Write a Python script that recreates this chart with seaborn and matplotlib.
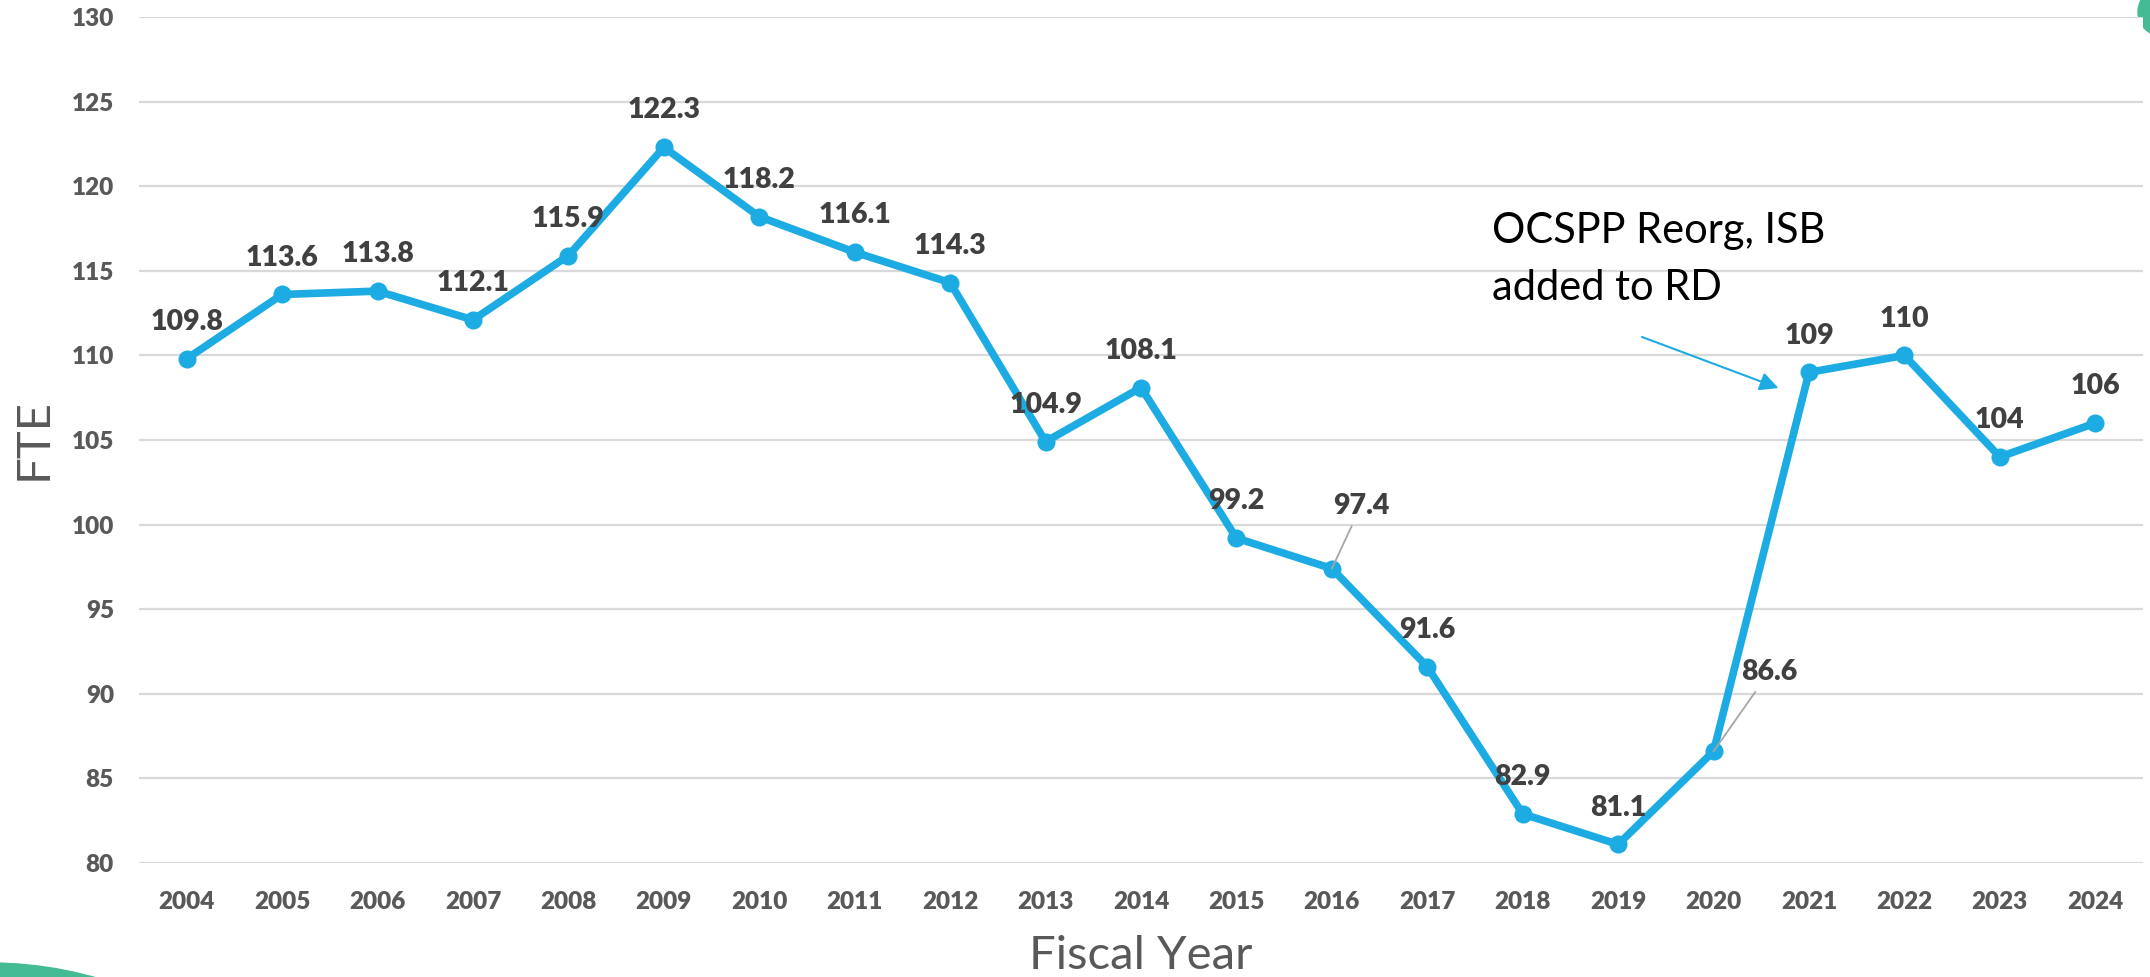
import matplotlib
matplotlib.use("Agg")
import matplotlib.pyplot as plt
import matplotlib.patches as mpatches
from matplotlib.transforms import IdentityTransform
import seaborn as sns
import pandas as pd

# ---- data ----
years = [2004, 2005, 2006, 2007, 2008, 2009, 2010, 2011, 2012, 2013, 2014,
         2015, 2016, 2017, 2018, 2019, 2020, 2021, 2022, 2023, 2024]
fte = [109.8, 113.6, 113.8, 112.1, 115.9, 122.3, 118.2, 116.1, 114.3, 104.9, 108.1,
       99.2, 97.4, 91.6, 82.9, 81.1, 86.6, 109, 110, 104, 106]
value_labels = ["109.8", "113.6", "113.8", "112.1", "115.9", "122.3", "118.2", "116.1",
                "114.3", "104.9", "108.1", "99.2", "97.4", "91.6", "82.9", "81.1",
                "86.6", "109", "110", "104", "106"]
y_ticks = [80, 85, 90, 95, 100, 105, 110, 115, 120, 125, 130]
annotation_lines = ["OCSPP Reorg, ISB", "added to RD"]

df = pd.DataFrame({"Fiscal Year": years, "FTE": fte})

sns.set_theme(style="white")
plt.rcParams["font.family"] = ["Lato", "DejaVu Sans"]

W, H, DPI = 2150, 977, 100
fig = plt.figure(figsize=(W / DPI, H / DPI), dpi=DPI)
fig.patch.set_facecolor("white")
ax = fig.add_axes([139 / W, 1 - 863 / H, (2143 - 139) / W, (863 - 17) / H])

line_color = "#1CACE3"
sns.lineplot(data=df, x="Fiscal Year", y="FTE", ax=ax, color=line_color,
             linewidth=5.5, marker="o", markersize=13, markeredgewidth=0, zorder=3)

ax.set_xlim(years[0] - 0.5, years[-1] + 0.5)
ax.set_ylim(y_ticks[0], y_ticks[-1])
ax.set_yticks(y_ticks)
ax.set_xticks(years)
ax.set_xticklabels([str(y) for y in years])
ax.grid(axis="y", color="#D9D9D9", linewidth=1.6, zorder=0)
ax.grid(axis="x", visible=False)
for s in ax.spines.values():
    s.set_visible(False)
ax.tick_params(axis="both", length=0, labelcolor="#595959", labelsize=17.5)
ax.tick_params(axis="y", pad=18)
ax.tick_params(axis="x", pad=20)
for lab in ax.get_xticklabels() + ax.get_yticklabels():
    lab.set_fontweight("heavy")

ax.set_xlabel("Fiscal Year", fontsize=34, color="#595959", va="center", ha="center")
ax.set_ylabel("FTE", fontsize=34, color="#595959", va="center", ha="center")
ax.xaxis.set_label_coords(0.5, -(956 - 863) / (863 - 17))
ax.yaxis.set_label_coords(-(139 - 34) / (2143 - 139), 1 - (439 - 17) / (863 - 17))

# data labels
special = {2016: (21, -45), 2020: (40, -57)}
for x, y, t in zip(years, fte, value_labels):
    if x in special:
        dx, dy = special[x]
        ax.annotate(t, xy=(x, y), xytext=(dx, -dy), textcoords="offset points",
                    ha="center", va="center", fontsize=20.5, fontweight="heavy",
                    color="#404040", zorder=5,
                    arrowprops=dict(arrowstyle="-", color="#A6A6A6", lw=1.3,
                                    shrinkA=3, shrinkB=0))
    else:
        ax.annotate(t, xy=(x, y), xytext=(0, 26.5), textcoords="offset points",
                    ha="center", va="center", fontsize=20.5, fontweight="heavy",
                    color="#404040", zorder=5)

# annotation text and arrow
ax.text(2017.68, 116.64, annotation_lines[0], fontsize=30, color="black",
        ha="left", va="baseline")
ax.text(2017.68, 113.27, annotation_lines[1], fontsize=30, color="black",
        ha="left", va="baseline")
ax.annotate("", xy=(2020.68, 108.07), xytext=(2019.25, 111.09),
            arrowprops=dict(arrowstyle="-|>", color=line_color, lw=1.5,
                            mutation_scale=28, shrinkA=0, shrinkB=0))

# slide decorations (green circles)
green = "#44BB94"
fig.add_artist(mpatches.Circle((-10, H - 1349), 386, transform=IdentityTransform(),
                               color=green, zorder=0, clip_on=False))
fig.add_artist(mpatches.Circle((2162, H - 12), 24, transform=IdentityTransform(),
                               color=green, zorder=0, clip_on=False))

fig.savefig("out.png", dpi=DPI)
